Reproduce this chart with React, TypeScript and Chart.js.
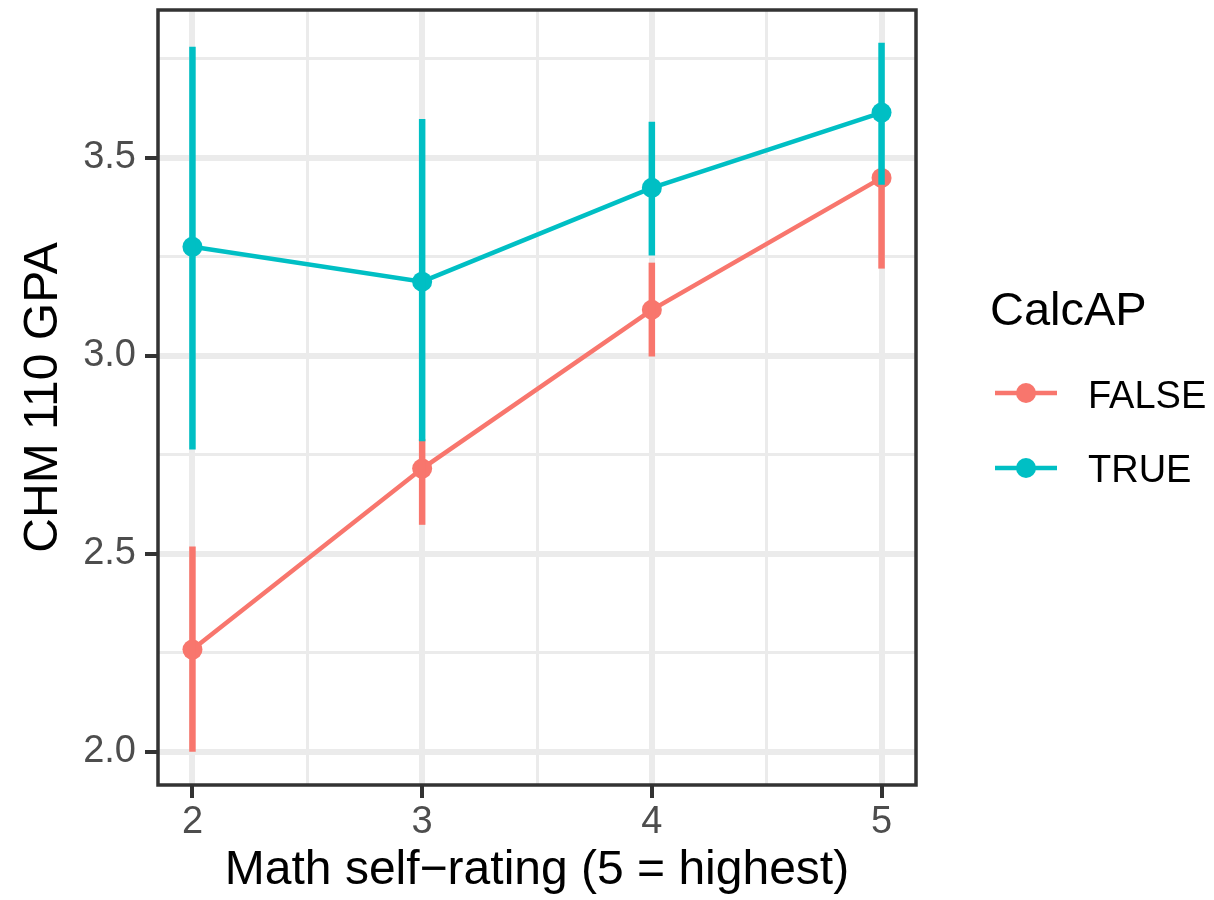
import React, { useEffect, useRef } from "react";
import { Chart, registerables } from "chart.js";

Chart.register(...registerables);

// Math self-rating levels on the x axis
const ratings = [2, 3, 4, 5];

// CalcAP = FALSE: mean CHM 110 GPA with interval bounds
const falseMean = [2.258, 2.715, 3.116, 3.449];
const falseLow = [2.0, 2.573, 2.998, 3.22];
const falseHigh = [2.518, 2.79, 3.235, 3.46];

// CalcAP = TRUE
const trueMean = [3.275, 3.187, 3.424, 3.614];
const trueLow = [2.763, 2.784, 3.253, 3.432];
const trueHigh = [3.78, 3.598, 3.591, 3.79];

const seriesNames = ["FALSE", "TRUE"];
const seriesColors = ["#F8766D", "#00BFC4"];

// Major and minor grid positions
const yTickValues = [2.0, 2.25, 2.5, 2.75, 3.0, 3.25, 3.5, 3.75];
const xTickValues = [2, 2.5, 3, 3.5, 4, 4.5, 5];

const FONT = "'Liberation Sans', Arial, Helvetica, sans-serif";

const isMajorY = (v: number) => Math.abs(v * 2 - Math.round(v * 2)) < 1e-6;
const isMajorX = (v: number) => Math.abs(v - Math.round(v)) < 1e-6;

export default function App() {
  const canvasRef = useRef<HTMLCanvasElement | null>(null);

  useEffect(() => {
    document.body.style.margin = "0";
    const canvas = canvasRef.current;
    if (!canvas) return;

    const means = [falseMean, trueMean];
    const lows = [falseLow, trueLow];
    const highs = [falseHigh, trueHigh];

    const errorBars = {
      id: "errorBars",
      afterDatasetsDraw(chart: any) {
        const { ctx } = chart;
        const xs = chart.scales.x;
        const ys = chart.scales.y;
        ctx.save();
        ctx.lineCap = "butt";
        ctx.lineWidth = 6.5;
        for (let s = 0; s < 2; s++) {
          ctx.strokeStyle = seriesColors[s];
          for (let i = 0; i < ratings.length; i++) {
            const px = xs.getPixelForValue(ratings[i]);
            ctx.beginPath();
            ctx.moveTo(px, ys.getPixelForValue(lows[s][i]));
            ctx.lineTo(px, ys.getPixelForValue(highs[s][i]));
            ctx.stroke();
          }
        }
        ctx.restore();
      },
    };

    const panelAndLegend = {
      id: "panelAndLegend",
      afterDraw(chart: any) {
        const { ctx, chartArea } = chart;
        ctx.save();
        // panel border
        ctx.strokeStyle = "#333333";
        ctx.lineWidth = 3.5;
        ctx.strokeRect(
          chartArea.left,
          chartArea.top,
          chartArea.right - chartArea.left,
          chartArea.bottom - chartArea.top
        );

        // legend
        const lx = chartArea.right + 74;
        ctx.fillStyle = "#000000";
        ctx.textAlign = "left";
        ctx.textBaseline = "alphabetic";
        ctx.font = `47px ${FONT}`;
        ctx.fillText("CalcAP", lx, 325);

        const keyY = [393, 468];
        const labelBase = [408, 482];
        for (let s = 0; s < 2; s++) {
          ctx.strokeStyle = seriesColors[s];
          ctx.lineWidth = 4.5;
          ctx.beginPath();
          ctx.moveTo(lx + 5, keyY[s]);
          ctx.lineTo(lx + 67, keyY[s]);
          ctx.stroke();
          ctx.fillStyle = seriesColors[s];
          ctx.beginPath();
          ctx.arc(lx + 36, keyY[s], 10, 0, Math.PI * 2);
          ctx.fill();
          ctx.fillStyle = "#000000";
          ctx.font = `38px ${FONT}`;
          ctx.fillText(seriesNames[s], lx + 98, labelBase[s]);
        }
        ctx.restore();
      },
    };

    const chart = new Chart(canvas, {
      type: "line",
      data: {
        datasets: [0, 1].map((s) => ({
          label: seriesNames[s],
          data: ratings.map((r, i) => ({ x: r, y: means[s][i] })),
          borderColor: seriesColors[s],
          backgroundColor: seriesColors[s],
          borderWidth: 4.5,
          pointRadius: 10,
          pointHoverRadius: 10,
          pointBorderWidth: 0,
          pointBackgroundColor: seriesColors[s],
          tension: 0,
          fill: false,
        })),
      },
      options: {
        animation: false,
        responsive: false,
        events: [],
        layout: { padding: { top: 10, right: 298, bottom: 0, left: 0 } },
        plugins: {
          legend: { display: false },
          tooltip: { enabled: false },
        },
        scales: {
          x: {
            type: "linear",
            min: 1.85,
            max: 5.15,
            afterBuildTicks: (scale: any) => {
              scale.ticks = xTickValues.map((v) => ({ value: v }));
            },
            afterFit: (scale: any) => {
              scale.height = 115;
              scale.paddingLeft = 0;
              scale.paddingRight = 0;
            },
            border: { display: false },
            grid: {
              color: "#EBEBEB",
              lineWidth: (c: any) => (c.tick && isMajorX(c.tick.value) ? 6 : 3),
              tickLength: 13,
              tickWidth: 4,
              tickColor: (c: any) =>
                c.tick && isMajorX(c.tick.value) ? "#333333" : "rgba(0,0,0,0)",
            },
            ticks: {
              autoSkip: false,
              maxRotation: 0,
              padding: 2,
              color: "#4D4D4D",
              font: { family: FONT, size: 38 },
              callback: (v: any) => (isMajorX(Number(v)) ? String(Math.round(Number(v))) : ""),
            },
            title: {
              display: true,
              text: "Math self\u2212rating (5 = highest)",
              color: "#000000",
              font: { family: FONT, size: 48 },
              padding: { top: 0, bottom: 0 },
            },
          },
          y: {
            type: "linear",
            min: 1.916,
            max: 3.873,
            afterBuildTicks: (scale: any) => {
              scale.ticks = yTickValues.map((v) => ({ value: v }));
            },
            afterFit: (scale: any) => {
              scale.width = 158;
              scale.paddingTop = 0;
              scale.paddingBottom = 0;
            },
            border: { display: false },
            grid: {
              color: "#EBEBEB",
              lineWidth: (c: any) => (c.tick && isMajorY(c.tick.value) ? 6 : 3),
              tickLength: 13,
              tickWidth: 4,
              tickColor: (c: any) =>
                c.tick && isMajorY(c.tick.value) ? "#333333" : "rgba(0,0,0,0)",
            },
            ticks: {
              autoSkip: false,
              padding: 9,
              color: "#4D4D4D",
              font: { family: FONT, size: 38 },
              callback: (v: any) => (isMajorY(Number(v)) ? Number(v).toFixed(1) : ""),
            },
            title: {
              display: true,
              text: "CHM 110 GPA",
              color: "#000000",
              font: { family: FONT, size: 48 },
              padding: { top: 15, bottom: 0 },
            },
          },
        },
      },
      plugins: [errorBars, panelAndLegend],
    } as any);

    return () => chart.destroy();
  }, []);

  return (
    <div style={{ width: 1214, height: 900 }}>
      <canvas ref={canvasRef} width={1214} height={900} />
    </div>
  );
}
